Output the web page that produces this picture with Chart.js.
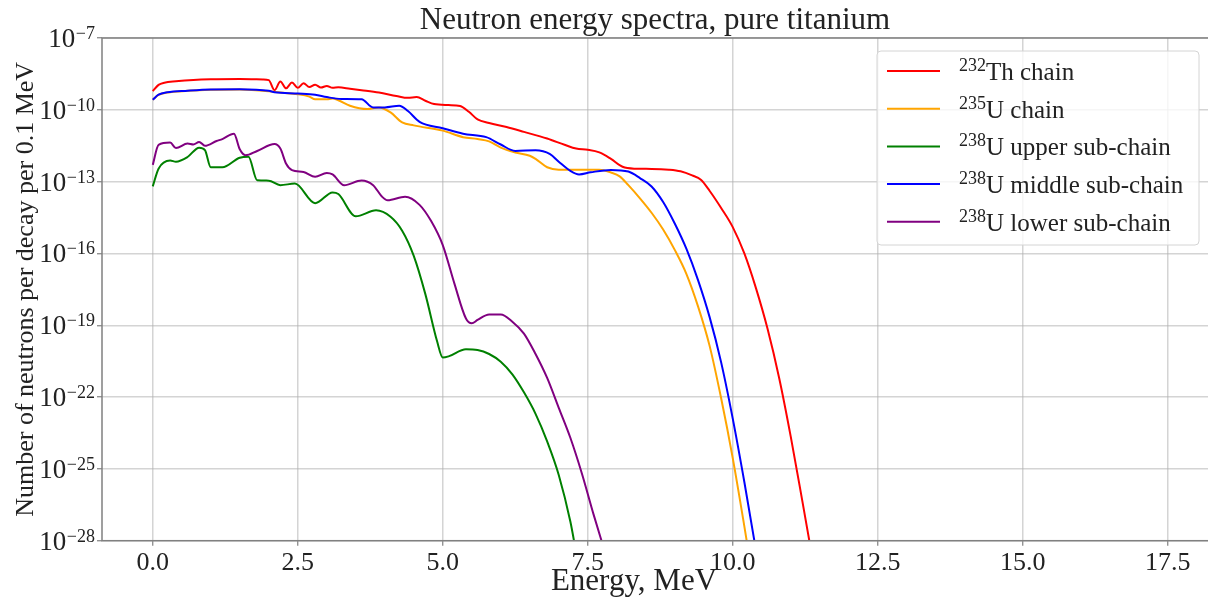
<!DOCTYPE html>
<html>
<head>
<meta charset="utf-8">
<script src="https://cdn.jsdelivr.net/npm/chart.js@4.4.1/dist/chart.umd.min.js"></script>
<style>
  html, body { margin: 0; padding: 0; background: #fff; overflow: hidden; }
  #wrap { width: 1222px; height: 600px; }
</style>
</head>
<body>
<div id="wrap"><canvas id="c" width="1222" height="600"></canvas></div>
<script>
/* ---- DATA (energy in MeV, neutrons per decay per 0.1 MeV) ---- */
const thE = [0, 0.1, 0.2, 0.4, 0.7, 1.0, 1.5, 1.9, 2.0, 2.1, 2.2, 2.3, 2.4, 2.5, 2.6, 2.7, 2.8, 2.9, 3.0, 3.1, 3.2,
  3.4, 3.6, 3.9, 4.2, 4.4, 4.55, 4.7, 4.85, 5.1, 5.3, 5.45, 5.6, 5.8, 6.1, 6.4, 6.8, 7.1, 7.3, 7.5, 7.7, 7.9,
  8.1, 8.3, 8.6, 8.9, 9.1, 9.3, 9.45, 9.6, 9.8, 10.0, 10.2, 10.4, 10.6, 10.8, 11.0, 11.2, 11.4];
const thN = [6.0e-10, 1.1e-9, 1.35e-9, 1.55e-9, 1.78e-9, 1.9e-9, 1.95e-9, 1.86e-9, 1.74e-9,
  6.6e-10, 1.51e-9, 7.9e-10, 1.38e-9, 8.3e-10, 1.29e-9, 8.9e-10, 1.12e-9, 8.5e-10, 1.0e-9, 8.3e-10, 8.7e-10,
  7.6e-10, 6.6e-10, 5.25e-10, 3.8e-10, 3.16e-10, 3.4e-10, 2.4e-10, 1.74e-10,
  1.58e-10, 1.45e-10, 8.3e-11, 3.98e-11, 2.82e-11, 1.91e-11, 1.2e-11, 6.3e-12,
  3.47e-12, 2.4e-12, 2.14e-12, 1.66e-12, 8.9e-13, 4.17e-13, 3.47e-13, 3.4e-13, 3.16e-13,
  2.7e-13, 1.82e-13, 1.2e-13, 4.17e-14, 7.9e-15,
  1.26e-15, 1.0e-16, 3.55e-18, 7.1e-20, 6.3e-22, 2.24e-24, 4.47e-27, 7.9e-30];

const u235E = [0, 0.1, 0.25, 0.6, 1.0, 1.5, 2.0, 2.2, 2.5, 2.7, 2.8, 3.0, 3.1, 3.2, 3.4, 3.7, 3.9, 4.1, 4.3, 4.5,
  5.0, 5.35, 5.6, 5.8, 6.0, 6.25, 6.5, 6.6, 6.8, 7.0, 7.7, 7.9, 8.05, 8.2, 8.4, 8.6, 8.8, 9.0, 9.2, 9.4,
  9.6, 9.8, 10.0, 10.2, 10.3];
const u235N = [2.63e-10, 4.17e-10, 5.25e-10, 6.2e-10, 6.9e-10, 7.1e-10, 6.0e-10, 5.25e-10, 4.47e-10, 3.55e-10,
  2.75e-10, 2.75e-10, 2.95e-10, 2.51e-10, 1.48e-10, 1.07e-10, 1.26e-10, 7.8e-11, 3.0e-11, 2.24e-11,
  1.35e-11, 7.2e-12, 6.0e-12, 4.8e-12, 2.63e-12, 1.66e-12, 1.2e-12, 8.9e-13, 3.98e-13, 3.16e-13,
  3.16e-13, 2.4e-13, 1.66e-13, 7.1e-14, 2.0e-14, 5.0e-15, 1.0e-15, 1.41e-16, 1.41e-17, 6.3e-19,
  1.41e-20, 8.9e-23, 2.82e-25, 3.98e-28, 1.26e-29];

const upE = [0, 0.1, 0.3, 0.4, 0.6, 0.8, 0.9, 1.0, 1.2, 1.5, 1.65, 1.8, 2.0, 2.2, 2.45, 2.8, 3.1, 3.2, 3.5, 3.85,
  4.1, 4.3, 4.5, 4.7, 4.9, 5.0, 5.1, 5.4, 5.6, 5.8, 6.0, 6.2, 6.4, 6.6, 6.8, 7.0, 7.2, 7.3];
const upN = [6.3e-14, 3.47e-13, 7.6e-13, 6.8e-13, 1.07e-12, 2.63e-12, 2.09e-12, 3.98e-13, 3.98e-13, 1.0e-12,
  1.1e-12, 1.15e-13, 1.1e-13, 7.1e-14, 8.3e-14, 1.26e-14, 3.55e-14, 3.02e-14, 3.55e-15, 6.3e-15,
  3.4e-15, 8.9e-16, 7.9e-17, 2.0e-18, 2.24e-20, 4.47e-21, 5.0e-21, 1.0e-20, 9.3e-21, 6.3e-21,
  3.0e-21, 8.9e-22, 1.58e-22, 2.0e-23, 1.41e-24, 5.6e-26, 6.3e-28, 3.16e-29];

const midE = [0, 0.1, 0.25, 0.6, 1.0, 1.5, 2.0, 2.1, 2.5, 2.8, 3.0, 3.25, 3.6, 3.8, 4.0, 4.25, 4.4, 4.6, 5.0, 5.35,
  5.75, 6.0, 6.25, 6.6, 6.85, 7.0, 7.2, 7.35, 7.55, 7.9, 8.2, 8.4, 8.6, 8.8, 9.0, 9.2, 9.4, 9.6, 9.8, 10.0,
  10.2, 10.4];
const midN = [2.63e-10, 4.27e-10, 5.4e-10, 6.3e-10, 7.1e-10, 7.24e-10, 6.2e-10, 5.4e-10, 4.8e-10, 4.27e-10,
  3.4e-10, 2.82e-10, 2.75e-10, 1.26e-10, 1.26e-10, 1.48e-10, 8.9e-11, 3.16e-11, 1.7e-11, 1.0e-11,
  7.2e-12, 3.55e-12, 1.91e-12, 2.04e-12, 1.41e-12, 6.8e-13, 2.82e-13, 2.0e-13, 2.45e-13, 3.09e-13,
  2.63e-13, 1.41e-13, 6.3e-14, 1.41e-14, 1.78e-15, 1.58e-16, 7.9e-18, 2.24e-19, 2.82e-21, 1.26e-23,
  2.82e-26, 3.98e-29];

const lowE = [0, 0.1, 0.3, 0.4, 0.6, 0.7, 0.8, 0.9, 1.1, 1.2, 1.4, 1.5, 1.6, 1.8, 2.1, 2.2, 2.3, 2.4, 2.6, 2.8,
  3.0, 3.1, 3.3, 3.6, 3.8, 3.95, 4.05, 4.35, 4.6, 4.8, 5.0, 5.2, 5.4, 5.5, 5.6, 5.8, 6.0, 6.2, 6.4, 6.6,
  6.8, 7.0, 7.2, 7.4, 7.6, 7.8];
const lowN = [5.0e-13, 3.47e-12, 4.27e-12, 2.51e-12, 3.9e-12, 3.55e-12, 4.57e-12, 3.16e-12, 5.0e-12, 6.0e-12,
  1.0e-11, 2.24e-12, 1.26e-12, 1.91e-12, 3.72e-12, 2.4e-12, 5.6e-13, 3.02e-13, 2.51e-13, 1.58e-13,
  2.29e-13, 2.0e-13, 7.1e-14, 1.12e-13, 7.1e-14, 2.4e-14, 1.66e-14, 2.34e-14, 1.07e-14, 2.24e-15,
  2.24e-16, 5.6e-18, 1.91e-19, 1.2e-19, 1.66e-19, 2.82e-19, 2.82e-19, 1.41e-19, 4.47e-20, 6.3e-21,
  6.3e-22, 3.55e-23, 2.0e-24, 6.3e-26, 1.26e-27, 3.16e-29];

const masses = ['232', '235', '238', '238', '238'];
const names = ['Th chain', 'U chain', 'U upper sub-chain', 'U middle sub-chain', 'U lower sub-chain'];
const colors = ['#ff0000', '#ffa500', '#008000', '#0000ff', '#800080'];

const xTicks = [0, 2.5, 5, 7.5, 10, 12.5, 15, 17.5];
const yTicks = [1e-28, 1e-25, 1e-22, 1e-19, 1e-16, 1e-13, 1e-10, 1e-7];

/* ---- HELPERS ------------------------------------------------ */
const SERIF = '"Liberation Serif", "DejaVu Serif", serif';
const TXT = '#222';
const pts = (xs, ys) => xs.map((x, i) => ({ x, y: ys[i] }));

const series = [[thE, thN], [u235E, u235N], [upE, upN], [midE, midN], [lowE, lowN]];
const datasets = series.map(([xs, ys], i) => ({
  label: masses[i] + names[i],
  data: pts(xs, ys),
  borderColor: colors[i],
  borderWidth: 2,
  pointRadius: 0,
  fill: false,
  cubicInterpolationMode: 'monotone',
  order: series.length - 1 - i   // later series on top, like matplotlib
}));

/* ---- TEXT / FRAME PLUGIN ------------------------------------ */
const textPlugin = {
  id: 'texts',
  afterDatasetsDraw(chart) {
    const { ctx, chartArea: a } = chart;
    ctx.save();
    ctx.strokeStyle = '#808080';
    ctx.lineWidth = 1.5;
    ctx.strokeRect(a.left, a.top, a.right - a.left, a.bottom - a.top);
    ctx.restore();
  },
  afterDraw(chart) {
    const { ctx, chartArea: a, scales } = chart;
    ctx.save();
    ctx.fillStyle = TXT;

    // y tick labels 10^n
    const right = 95;
    yTicks.forEach(v => {
      const y = scales.y.getPixelForValue(v);
      const sup = '\u2212' + Math.abs(Math.round(Math.log10(v)));
      ctx.font = '18px ' + SERIF;
      const sw = ctx.measureText(sup).width;
      ctx.textAlign = 'left';
      ctx.textBaseline = 'alphabetic';
      ctx.fillText(sup, right - sw, y + 1);
      ctx.font = '27px ' + SERIF;
      ctx.textAlign = 'right';
      ctx.fillText('10', right - sw - 0.5, y + 9);
    });

    // title
    ctx.font = '31px ' + SERIF;
    ctx.textAlign = 'center';
    ctx.fillText('Neutron energy spectra, pure titanium', 655, 29);

    // x label
    ctx.font = '31px ' + SERIF;
    ctx.fillText('Energy, MeV', 634, 590);

    // y label
    ctx.save();
    ctx.translate(33, (a.top + a.bottom) / 2);
    ctx.rotate(-Math.PI / 2);
    ctx.font = '26px ' + SERIF;
    ctx.textAlign = 'center';
    ctx.fillText('Number of neutrons per decay per 0.1 MeV', 0, 0);
    ctx.restore();

    // legend
    const bx = 877, by = 51, bw = 322, bh = 194;
    ctx.beginPath();
    ctx.roundRect(bx, by, bw, bh, 4);
    ctx.fillStyle = 'rgba(255,255,255,0.8)';
    ctx.fill();
    ctx.strokeStyle = '#d4d4d4';
    ctx.lineWidth = 1;
    ctx.stroke();
    chart.data.datasets.forEach((ds, i) => {
      const cy = 71 + i * 37.7;
      ctx.strokeStyle = ds.borderColor;
      ctx.lineWidth = 2;
      ctx.beginPath();
      ctx.moveTo(887, cy);
      ctx.lineTo(940, cy);
      ctx.stroke();
      ctx.fillStyle = TXT;
      ctx.textAlign = 'left';
      ctx.font = '18px ' + SERIF;
      const sw = ctx.measureText(masses[i]).width;
      ctx.fillText(masses[i], 959, cy);
      ctx.font = '25px ' + SERIF;
      ctx.fillText(names[i], 959 + sw, cy + 9);
    });
    ctx.restore();
  }
};

/* ---- CHART -------------------------------------------------- */
new Chart(document.getElementById('c'), {
  type: 'line',
  data: { datasets },
  options: {
    responsive: false,
    animation: false,
    events: [],
    layout: { padding: { top: 38, right: 3.5, left: 0, bottom: 0 } },
    plugins: { legend: { display: false }, title: { display: false }, tooltip: { enabled: false } },
    scales: {
      x: {
        type: 'linear',
        min: -0.875,
        max: 18.375,
        afterBuildTicks: s => { s.ticks = xTicks.map(v => ({ value: v })); },
        afterFit: s => { s.height = 59.3; },
        ticks: {
          autoSkip: false,
          maxRotation: 0,
          padding: 2,
          color: TXT,
          font: { family: SERIF, size: 26 },
          callback: v => Number(v).toFixed(1)
        },
        grid: { color: 'rgba(176,176,176,0.55)', lineWidth: 1.5, tickLength: 5, tickColor: '#808080', tickWidth: 1.2 },
        border: { display: false }
      },
      y: {
        type: 'logarithmic',
        min: 1e-28,
        max: 1e-7,
        afterBuildTicks: s => { s.ticks = yTicks.map(v => ({ value: v })); },
        afterFit: s => { s.width = 102; },
        ticks: { autoSkip: false, callback: () => '' },
        grid: { color: 'rgba(176,176,176,0.55)', lineWidth: 1.5, tickLength: 5, tickColor: '#808080', tickWidth: 1.2 },
        border: { display: false }
      }
    }
  },
  plugins: [textPlugin]
});
</script>
</body>
</html>
